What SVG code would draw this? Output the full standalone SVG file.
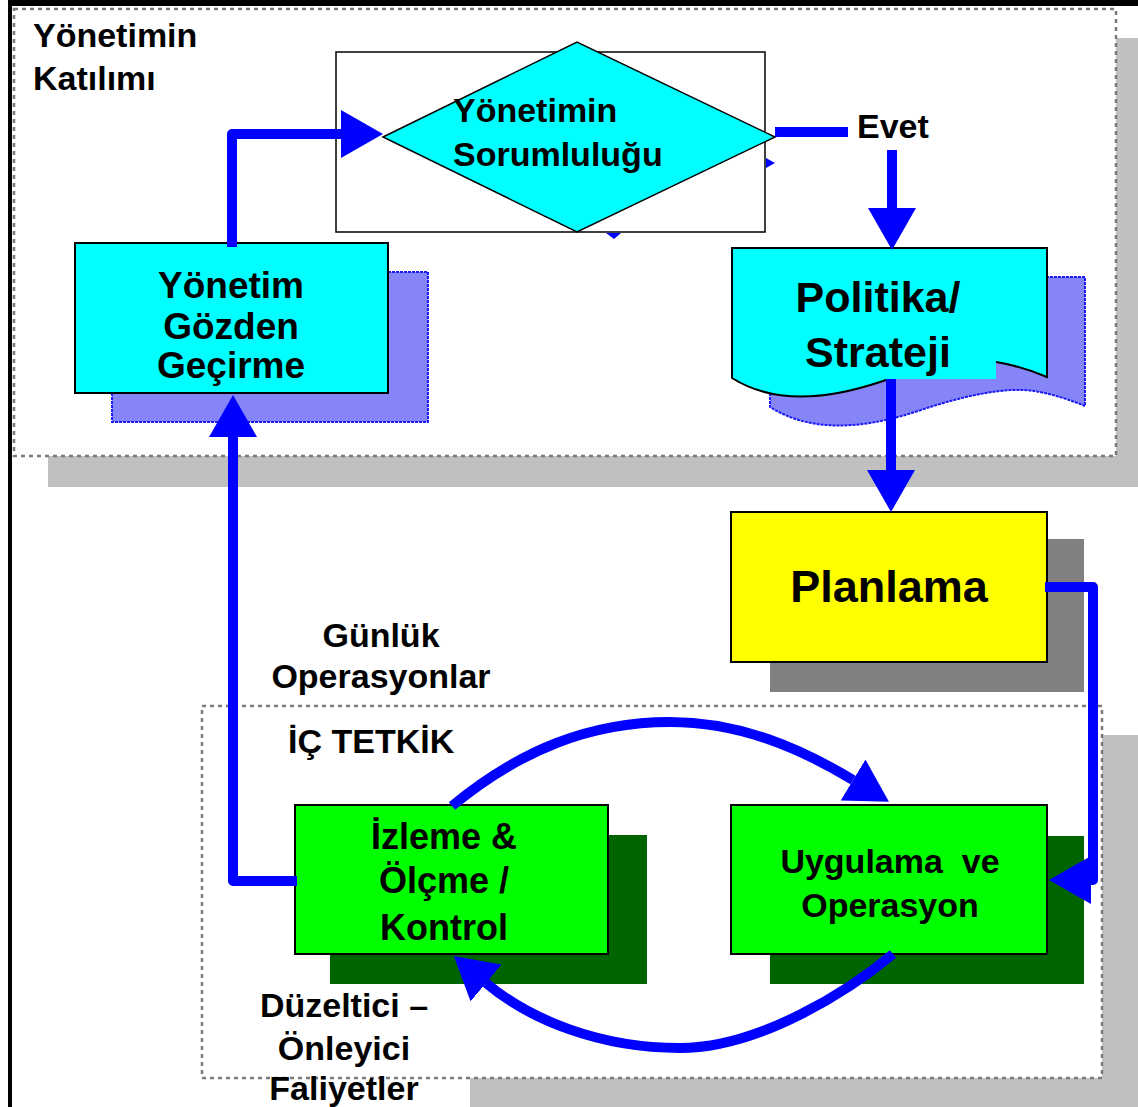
<svg xmlns="http://www.w3.org/2000/svg" width="1138" height="1107" viewBox="0 0 1138 1107">
  <defs>
    <marker id="arr" viewBox="0 0 42 48" refX="0" refY="24" markerWidth="42" markerHeight="48" markerUnits="userSpaceOnUse" orient="auto">
      <path d="M0,0 L42,24 L0,48 Z" fill="#0000ff"/>
    </marker>
    <style>
      .t { font-family: "Liberation Sans", Arial, sans-serif; font-weight: bold; fill: #000; }
      .region { fill: #fff; stroke: #7a7a7a; stroke-width: 2.5; stroke-dasharray: 4 4; }
      .regshadow { fill: #c0c0c0; }
      .box { stroke: #000; stroke-width: 2; }
      .hshadow { fill: #8585f8; stroke: #1a1aff; stroke-width: 2; stroke-dasharray: 3 1; }
      .conn { fill: none; stroke: #0000ff; stroke-width: 10; stroke-linejoin: round; }
    </style>
  </defs>

  <rect width="1138" height="1107" fill="#fff"/>

  <!-- regions -->
  <g id="region-top">
    <rect class="regshadow" x="48" y="38" width="1090" height="449"/>
    <rect class="region" x="14" y="9" width="1102" height="447"/>
    <text class="t" x="33" y="47" font-size="34">Yönetimin</text>
    <text class="t" x="33" y="90" font-size="34">Katılımı</text>
  </g>
  <g id="region-bottom">
    <rect class="regshadow" x="470" y="735" width="668" height="372"/>
    <rect class="region" x="202" y="706" width="900" height="372"/>
    <text class="t" x="288" y="753" font-size="34">İÇ TETKİK</text>
  </g>

  <!-- frame -->
  <rect x="8" y="0" width="1130" height="6" fill="#000"/>
  <rect x="8" y="0" width="4" height="1107" fill="#000"/>

  <!-- hidden connector artifacts -->
  <g id="artifacts" fill="#0000ff">
    <polygon points="766,158 775,163 766,168"/>
    <polygon points="606,233 621,233 614,239"/>
  </g>

  <g id="node-sorumluluk">
    <rect x="336" y="52" width="429" height="180" fill="#fff" stroke="#000" stroke-width="1.5"/>
    <polygon points="383,137 577,42 775,137 577,232" fill="#00ffff" stroke="#000" stroke-width="1.5"/>
    <text class="t" x="453" y="122" font-size="34">Yönetimin</text>
    <text class="t" x="453" y="166" font-size="34">Sorumluluğu</text>
  </g>

  <g id="node-gozden">
    <rect class="hshadow" x="112" y="272" width="316" height="150"/>
    <rect class="box" x="75" y="243" width="313" height="150" fill="#00ffff"/>
    <text class="t" x="231" y="298" font-size="37" text-anchor="middle">Yönetim</text>
    <text class="t" x="231" y="339" font-size="37" text-anchor="middle">Gözden</text>
    <text class="t" x="231" y="378" font-size="37" text-anchor="middle">Geçirme</text>
  </g>

  <g id="node-politika">
    <path class="hshadow" transform="translate(38,29)" d="M732,248 H1047 V377 C1035,372 1015,365 996,362 C970,358 930,365 880,382 C820,402 770,402 732,378 Z"/>
    <path class="box" fill="#00ffff" d="M732,248 H1047 V377 C1035,372 1015,365 996,362 C970,358 930,365 880,382 C820,402 770,402 732,378 Z"/>
    <rect x="880" y="330" width="116" height="49" fill="#00ffff"/>
    <text class="t" x="878" y="312" font-size="43" text-anchor="middle">Politika/</text>
    <text class="t" x="878" y="367" font-size="43" text-anchor="middle">Strateji</text>
  </g>

  <g id="node-planlama">
    <rect x="770" y="539" width="314" height="153" fill="#808080"/>
    <rect class="box" x="731" y="512" width="316" height="150" fill="#ffff00"/>
    <text class="t" x="889" y="602" font-size="45" text-anchor="middle">Planlama</text>
  </g>

  <g id="node-izleme">
    <rect x="330" y="835" width="317" height="149" fill="#006400"/>
    <rect class="box" x="295" y="805" width="313" height="149" fill="#00ff00"/>
    <text class="t" x="444" y="849" font-size="36" text-anchor="middle">İzleme &amp;</text>
    <text class="t" x="444" y="893" font-size="36" text-anchor="middle">Ölçme /</text>
    <text class="t" x="444" y="940" font-size="36" text-anchor="middle">Kontrol</text>
  </g>

  <g id="node-uygulama">
    <rect x="770" y="836" width="314" height="148" fill="#006400"/>
    <rect class="box" x="731" y="805" width="316" height="149" fill="#00ff00"/>
    <text class="t" x="890" y="873" font-size="34" text-anchor="middle" xml:space="preserve">Uygulama  ve</text>
    <text class="t" x="890" y="917" font-size="34" text-anchor="middle">Operasyon</text>
  </g>

  <g id="labels">
    <text class="t" x="857" y="138" font-size="34">Evet</text>
    <text class="t" x="381" y="647" font-size="34" text-anchor="middle">Günlük</text>
    <text class="t" x="381" y="688" font-size="34" text-anchor="middle">Operasyonlar</text>
    <text class="t" x="344" y="1017" font-size="34" text-anchor="middle">Düzeltici –</text>
    <text class="t" x="344" y="1060" font-size="34" text-anchor="middle">Önleyici</text>
    <text class="t" x="344" y="1100" font-size="34" text-anchor="middle">Faliyetler</text>
  </g>

  <g id="connectors">
    <path class="conn" d="M232,247 V134 H341" marker-end="url(#arr)"/>
    <path class="conn" d="M775,132 H848"/>
    <path class="conn" d="M892,150 V208" marker-end="url(#arr)"/>
    <path class="conn" d="M891,379 V470" marker-end="url(#arr)"/>
    <path class="conn" d="M1045,587 H1093 V880 H1091" marker-end="url(#arr)"/>
    <path class="conn" d="M297,881 H233 V437" marker-end="url(#arr)"/>
    <path class="conn" d="M452,806 C520,750 590,722 670,722 C740,722 800,748 853,780" marker-end="url(#arr)"/>
    <path class="conn" d="M893,954 C850,990 760,1048 680,1048 C600,1048 530,1020 486,983" marker-end="url(#arr)"/>
  </g>
</svg>
